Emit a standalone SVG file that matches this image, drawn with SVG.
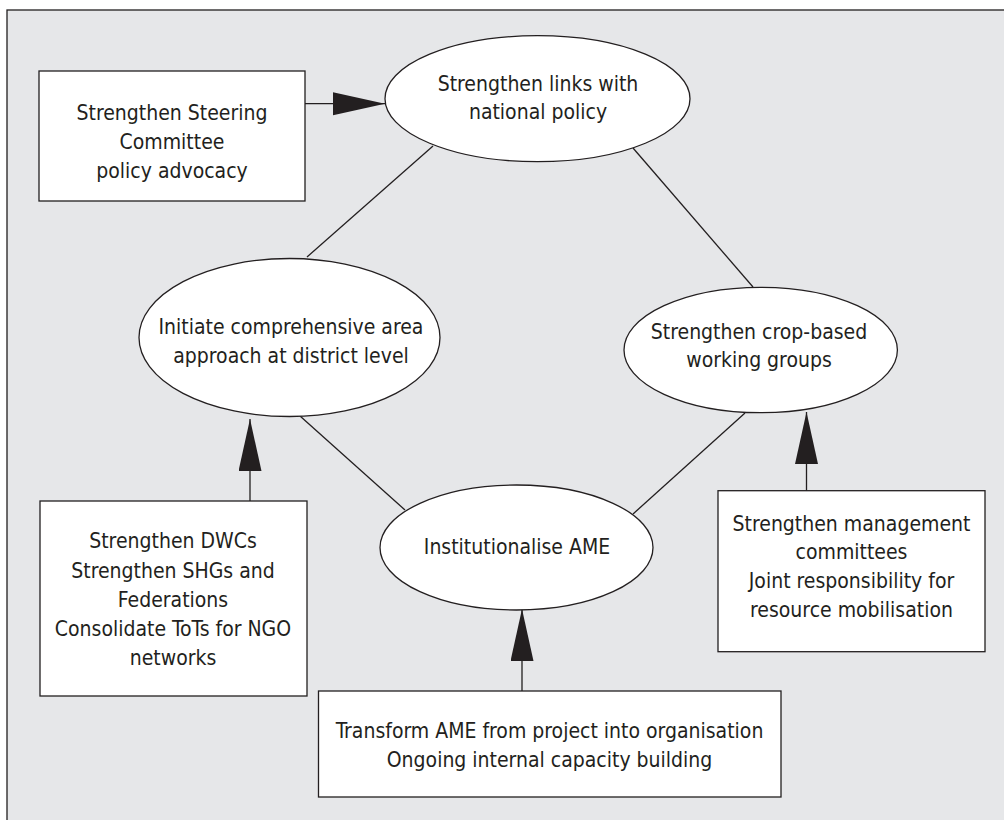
<svg xmlns="http://www.w3.org/2000/svg" width="1004" height="820" viewBox="0 0 1004 820">
  <style>
    .frame { fill: #e6e7e9; stroke: #231f20; stroke-width: 1.3; }
    .node { fill: #ffffff; stroke: #231f20; stroke-width: 1.3; }
    .link { fill: none; stroke: #231f20; stroke-width: 1.3; }
    .arrow { fill: none; stroke: #231f20; stroke-width: 1.3; marker-end: url(#head); }
    text { font-family: "DejaVu Sans Condensed", "DejaVu Sans", sans-serif; font-stretch: condensed; font-size: 21px; fill: #231f20; text-anchor: middle; }
  </style>
  <defs>
    <marker id="head" markerUnits="userSpaceOnUse" markerWidth="54" markerHeight="24" refX="52" refY="11.5" orient="auto">
      <path d="M0,0 L52,11.5 L0,23 Z" fill="#231f20"/>
    </marker>
  </defs>

  <!-- shaded panel; right and bottom edges run past the canvas -->
  <rect class="frame" x="7" y="10" width="1020" height="830"/>

  <g id="connectors">
    <line class="link" x1="433" y1="146" x2="307" y2="257"/>
    <line class="link" x1="633" y1="148" x2="753" y2="287"/>
    <line class="link" x1="300" y1="416" x2="405" y2="510"/>
    <line class="link" x1="745" y1="413" x2="633" y2="514"/>
    <line class="arrow" x1="305" y1="103.7" x2="385" y2="103.7"/>
    <line class="arrow" x1="250" y1="501" x2="250" y2="419"/>
    <line class="arrow" x1="806.5" y1="491" x2="806.5" y2="412"/>
    <line class="arrow" x1="522" y1="691" x2="522" y2="609"/>
  </g>

  <g id="steering-committee">
    <rect class="node" x="39" y="71" width="266" height="130"/>
    <text x="172" y="120">Strengthen Steering</text>
    <text x="172" y="149">Committee</text>
    <text x="172" y="178">policy advocacy</text>
  </g>

  <g id="national-policy">
    <ellipse class="node" cx="537.5" cy="98.7" rx="152.5" ry="63"/>
    <text x="538" y="91">Strengthen links with</text>
    <text x="538" y="119">national policy</text>
  </g>

  <g id="area-approach">
    <ellipse class="node" cx="289.5" cy="337.5" rx="150.5" ry="79"/>
    <text x="291" y="334">Initiate comprehensive area</text>
    <text x="291" y="362.5">approach at district level</text>
  </g>

  <g id="working-groups">
    <ellipse class="node" cx="760.7" cy="350" rx="136.7" ry="62.7"/>
    <text x="759" y="339.3">Strengthen crop-based</text>
    <text x="759" y="367.3">working groups</text>
  </g>

  <g id="institutionalise">
    <ellipse class="node" cx="516.5" cy="547.5" rx="136.5" ry="62.5"/>
    <text x="517" y="554">Institutionalise AME</text>
  </g>

  <g id="district-support">
    <rect class="node" x="40" y="501" width="267" height="195"/>
    <text x="173" y="548.3">Strengthen DWCs</text>
    <text x="173" y="577.5">Strengthen SHGs and</text>
    <text x="173" y="606.7">Federations</text>
    <text x="173" y="636">Consolidate ToTs for NGO</text>
    <text x="173" y="665">networks</text>
  </g>

  <g id="management-committees">
    <rect class="node" x="718" y="490.7" width="267" height="161"/>
    <text x="851.5" y="530.7">Strengthen management</text>
    <text x="851.5" y="559.3">committees</text>
    <text x="851.5" y="588.3">Joint responsibility for</text>
    <text x="851.5" y="616.7">resource mobilisation</text>
  </g>

  <g id="organisation">
    <rect class="node" x="318.5" y="691" width="462.5" height="106"/>
    <text x="549.5" y="738">Transform AME from project into organisation</text>
    <text x="549.5" y="766.7">Ongoing internal capacity building</text>
  </g>
</svg>
